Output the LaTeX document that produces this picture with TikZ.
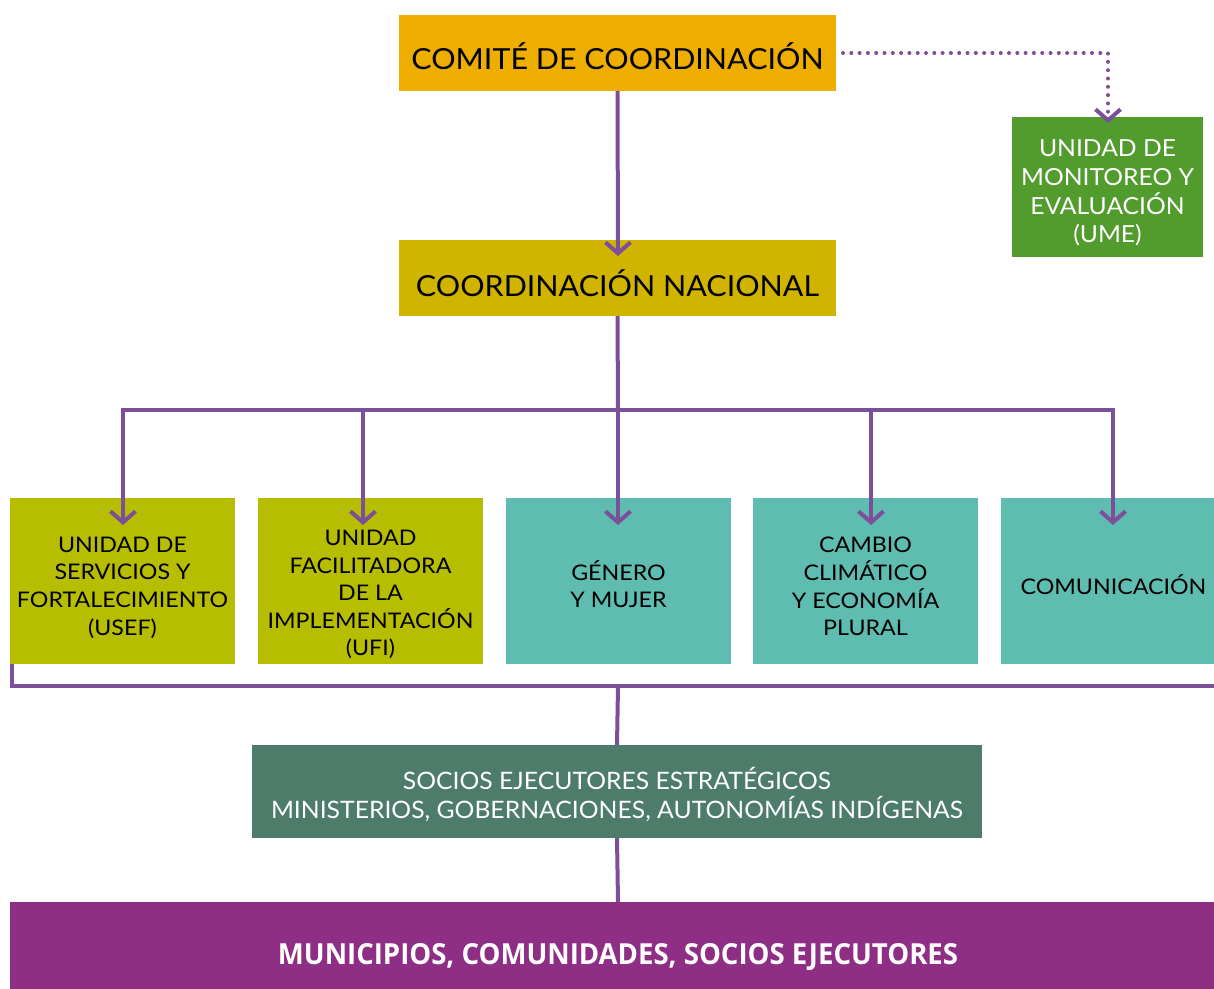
\documentclass[tikz,border=0pt]{standalone}
\usepackage{fontspec}
\setmainfont{Lato}
\newfontfamily\rowfont[FakeStretch=1.08]{Lato}
\newfontfamily\headfont[FakeStretch=1.05]{Lato}
\newfontfamily\socfont[FakeStretch=1.03]{Lato}
\newfontfamily\condfont[FakeStretch=0.95]{Open Sans}
\usetikzlibrary{arrows.meta}
\definecolor{cComite}{HTML}{EEAE00}
\definecolor{cNac}{HTML}{D1B400}
\definecolor{cOlive}{HTML}{B7BD00}
\definecolor{cTeal}{HTML}{5FBCB0}
\definecolor{cUme}{HTML}{529C2D}
\definecolor{cSocios}{HTML}{4E7C6B}
\definecolor{cMuni}{HTML}{8E2E84}
\definecolor{cLine}{HTML}{7B4F9A}
\tikzset{
  box/.style={rectangle, inner sep=0pt, outer sep=0pt},
  txt/.style={align=center, inner sep=0pt, font=\rowfont\fontsize{21.5}{27.6}\selectfont},
  wire/.style={draw=cLine, line width=4pt},
  arr/.style={wire, -{Straight Barb[length=11pt,width=25pt,line width=4pt]}},
  dotline/.style={draw=cLine, line width=4pt, line cap=round, dash pattern=on 0pt off 8.3pt},
}
\begin{document}
\begin{tikzpicture}[x=1pt,y=-1pt]
\useasboundingbox (0,0) rectangle (1214,988);
\clip (0,0) rectangle (1214,988);
% boxes
\node[box, fill=cComite, minimum width=437pt, minimum height=76pt] (comite) at (617.5,53) {};
\node[txt, font=\headfont\fontsize{29}{34}\selectfont] (comite-t) at (617.5,56.5) {COMITÉ DE COORDINACIÓN};
\node[box, fill=cNac, minimum width=437pt, minimum height=76pt] (nac) at (617.5,278) {};
\node[txt, font=\headfont\fontsize{29}{34}\selectfont] (nac-t) at (617.5,283) {COORDINACIÓN NACIONAL};
\node[box, fill=cUme, minimum width=191pt, minimum height=140pt] (ume) at (1107.5,187) {};
\node[txt, text=white, font=\headfont\fontsize{23.5}{28.7}\selectfont] (ume-t) at (1107.5,193) {UNIDAD DE\\MONITOREO Y\\EVALUACIÓN\\(UME)};
\node[box, fill=cOlive, minimum width=225pt, minimum height=166pt] (usef) at (122.5,581) {};
\node[txt] (usef-t) at (122.5,587.5) {UNIDAD DE\\SERVICIOS Y\\FORTALECIMIENTO\\(USEF)};
\node[box, fill=cOlive, minimum width=225pt, minimum height=166pt] (ufi) at (370.5,581) {};
\node[txt] (ufi-t) at (370.5,594.5) {UNIDAD\\FACILITADORA\\DE LA\\IMPLEMENTACIÓN\\(UFI)};
\node[box, fill=cTeal, minimum width=225pt, minimum height=166pt] (genero) at (618.5,581) {};
\node[txt] (genero-t) at (618.5,584) {GÉNERO\\Y MUJER};
\node[box, fill=cTeal, minimum width=225pt, minimum height=166pt] (cambio) at (865.5,581) {};
\node[txt] (cambio-t) at (865.5,586.5) {CAMBIO\\CLIMÁTICO\\Y ECONOMÍA\\PLURAL};
\node[box, fill=cTeal, minimum width=225pt, minimum height=166pt] (comu) at (1113.5,581) {};
\node[txt] (comu-t) at (1113.5,584.5) {COMUNICACIÓN};
\node[box, fill=cSocios, minimum width=730pt, minimum height=93pt] (socios) at (617,791.5) {};
\node[txt, text=white, font=\socfont\fontsize{24}{29}\selectfont] (socios-t) at (617,794) {SOCIOS EJECUTORES ESTRATÉGICOS\\MINISTERIOS, GOBERNACIONES, AUTONOMÍAS INDÍGENAS};
\node[box, fill=cMuni, minimum width=1216pt, minimum height=102pt] (muni) at (618,953) {};
\node[txt, text=white, font=\condfont\bfseries\fontsize{29}{33}\selectfont] (muni-t) at (618,957) {MUNICIPIOS, COMUNIDADES, SOCIOS EJECUTORES};
% coordinates
\coordinate (bus) at (618,410);
\coordinate (b1) at (123,410);
\coordinate (b2) at (363,410);
\coordinate (b4) at (871,410);
\coordinate (b5) at (1113,410);
\coordinate (t1) at (123,525);
\coordinate (t2) at (363,525);
\coordinate (t3) at (618,525);
\coordinate (t4) at (871,525);
\coordinate (t5) at (1113,525);
\coordinate (l2) at (12,686);
\coordinate (r2) at (1220,686);
\coordinate (mid) at (618,686);
\coordinate (d1) at (843,53);
\coordinate (d2) at (1108,53);
\coordinate (dt) at (1108,123);
\coordinate (nt) at (618,256);
% connectors
\draw[arr] (comite.south) -- (nt);
\draw[wire] (nac.south) -- (bus);
\draw[wire, line cap=rect] (b1) -- (b5);
\draw[arr] (b1) -- (t1);
\draw[arr] (b2) -- (t2);
\draw[arr] (bus) -- (t3);
\draw[arr] (b4) -- (t4);
\draw[arr] (b5) -- (t5);
\draw[wire] (usef.south -| l2) -- (l2) -- (r2);
\draw[wire] (mid) -- (socios.north);
\draw[wire] (socios.south) -- (muni.north);
\draw[dotline] (d1) -- (d2) -- ([yshift=6pt]dt);
\draw[arr] ([yshift=1pt]dt) -- (dt);
\end{tikzpicture}
\end{document}
